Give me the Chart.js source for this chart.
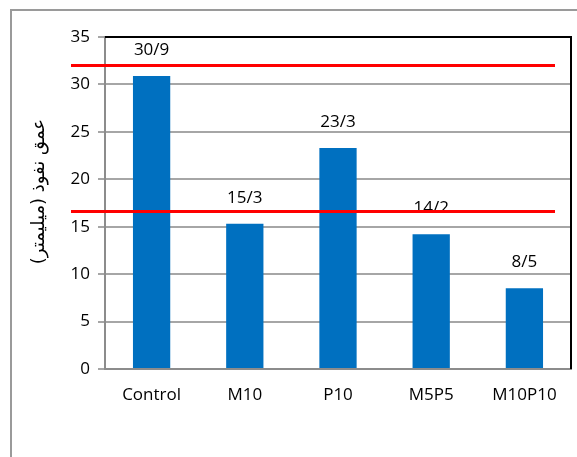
<!DOCTYPE html>
<html>
<head>
<meta charset="utf-8">
<script src="https://cdn.jsdelivr.net/npm/chart.js@4"></script>
<style>
  html, body { margin: 0; padding: 0; background: #fff; }
  #wrap { width: 577px; height: 457px; }
</style>
</head>
<body>
<div id="wrap"><canvas id="chart"></canvas></div>
<script>
// Chart data
const categories = ["Control", "M10", "P10", "M5P5", "M10P10"];
const depthValues = [30.9, 15.3, 23.3, 14.2, 8.5];
const refLines = [32, 16.7];
const yTicks = [0, 5, 10, 15, 20, 25, 30, 35];
// leading nbsp pushes the rotated title up a little
const yTitle = "\u00A0\u00A0\u00A0\u00A0\u200Fعمق نفوذ (میلیمتر)\u200F";

const FONT = "'Open Sans', Calibri, sans-serif";

// Persian style decimal: 30.9 -> 30/9
function fmt(v) {
    return String(v).replace(".", "/");
}

// Outer frame + black top/right border of plot area
const framePlugin = {
    id: "frame",
    beforeDraw(chart) {
        const ctx = chart.ctx;
        ctx.save();
        ctx.strokeStyle = "#9a9a9a";
        ctx.lineWidth = 2;
        ctx.beginPath();
        ctx.moveTo(11, chart.height + 5);
        ctx.lineTo(11, 10);
        ctx.lineTo(chart.width + 5, 10);
        ctx.stroke();
        ctx.restore();
    },
    afterDatasetsDraw(chart) {
        const ctx = chart.ctx;
        const a = chart.chartArea;
        ctx.save();
        ctx.strokeStyle = "#000";
        ctx.lineWidth = 2;
        ctx.beginPath();
        ctx.moveTo(a.left, a.top);
        ctx.lineTo(a.right, a.top);
        ctx.lineTo(a.right, a.bottom);
        ctx.stroke();
        ctx.restore();
    }
};

// Value labels above bars
const labelPlugin = {
    id: "valueLabels",
    afterDatasetsDraw(chart) {
        const ctx = chart.ctx;
        const meta = chart.getDatasetMeta(0);
        ctx.save();
        ctx.font = "17px " + FONT;
        ctx.fillStyle = "#000";
        ctx.textAlign = "center";
        ctx.textBaseline = "middle";
        meta.data.forEach((bar, i) => {
            ctx.fillText(fmt(depthValues[i]), bar.x, bar.y - 26);
        });
        ctx.restore();
    }
};

// Red reference lines
const refLinePlugin = {
    id: "refLines",
    afterDraw(chart) {
        const ctx = chart.ctx;
        const a = chart.chartArea;
        const y = chart.scales.y;
        ctx.save();
        ctx.strokeStyle = "#ff0000";
        ctx.lineWidth = 3;
        refLines.forEach(v => {
            const py = Math.round(y.getPixelForValue(v)) + 0.5;
            ctx.beginPath();
            ctx.moveTo(a.left - 34, py);
            ctx.lineTo(a.right - 16, py);
            ctx.stroke();
        });
        ctx.restore();
    }
};

new Chart(document.getElementById("chart"), {
    type: "bar",
    data: {
        labels: categories,
        datasets: [{
            data: depthValues,
            backgroundColor: "#0070c0",
            borderWidth: 0,
            categoryPercentage: 1,
            barPercentage: 0.4
        }]
    },
    options: {
        responsive: true,
        maintainAspectRatio: false,
        animation: false,
        layout: { padding: { top: 37, right: 6, left: 0, bottom: 0 } },
        plugins: {
            legend: { display: false },
            tooltip: { enabled: false }
        },
        scales: {
            x: {
                grid: { display: false, drawTicks: false },
                border: { color: "#8c8c8c", width: 2 },
                ticks: {
                    color: "#000",
                    font: { family: FONT, size: 17 },
                    padding: 16,
                    maxRotation: 0
                },
                afterFit: s => { s.height = 88; }
            },
            y: {
                min: 0,
                max: 35,
                afterBuildTicks: s => { s.ticks = yTicks.map(v => ({ value: v })); },
                grid: { color: "#a6a6a6", lineWidth: 2, tickLength: 7 },
                border: { color: "#8c8c8c", width: 2 },
                ticks: {
                    color: "#000",
                    font: { family: FONT, size: 17 },
                    padding: 8
                },
                title: {
                    display: true,
                    text: yTitle,
                    color: "#000",
                    font: { family: "'DejaVu Sans', sans-serif", size: 18 },
                    padding: { top: 29 }
                },
                afterFit: s => { s.width = 105; }
            }
        }
    },
    plugins: [framePlugin, labelPlugin, refLinePlugin]
});
</script>
</body>
</html>
